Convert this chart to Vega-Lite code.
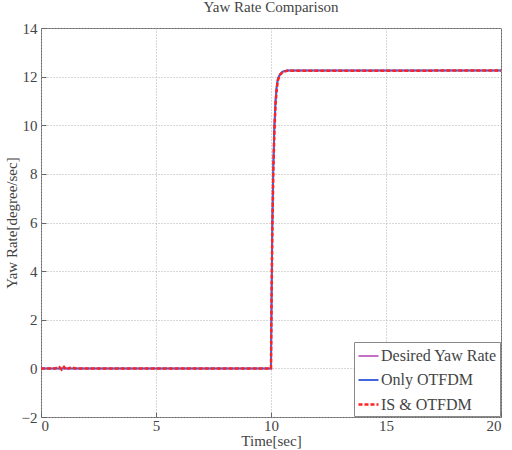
{
  "$schema": "https://vega.github.io/schema/vega-lite/v6.json",
  "autosize": {"type": "none"},
  "width": 460,
  "height": 389,
  "padding": {"left": 41, "top": 28, "right": 11, "bottom": 33},
  "background": "white",
  "title": {"text": "Yaw Rate Comparison", "font": "Liberation Serif", "fontSize": 15, "fontWeight": "normal", "color": "#444444", "offset": 6},
  "config": {
    "view": {"stroke": "#666666", "strokeWidth": 1},
    "axis": {"labelFont": "Liberation Serif", "labelFontSize": 15, "labelColor": "#444444", "titleFont": "Liberation Serif", "titleFontSize": 15, "titleFontWeight": "normal", "titleColor": "#444444", "gridColor": "#b0b0b0", "gridDash": [1, 2], "gridWidth": 1, "domain": false, "tickColor": "#666666", "tickSize": -5}
  },
  "data": {"values": [
    {"t": 0, "v": 0, "s": "Desired Yaw Rate"},
    {"t": 10, "v": 0, "s": "Desired Yaw Rate"},
    {"t": 10.03, "v": 3.6, "s": "Desired Yaw Rate"},
    {"t": 10.06, "v": 6.1, "s": "Desired Yaw Rate"},
    {"t": 10.1, "v": 8.4, "s": "Desired Yaw Rate"},
    {"t": 10.15, "v": 10.1, "s": "Desired Yaw Rate"},
    {"t": 10.2, "v": 11.1, "s": "Desired Yaw Rate"},
    {"t": 10.25, "v": 11.65, "s": "Desired Yaw Rate"},
    {"t": 10.3, "v": 11.95, "s": "Desired Yaw Rate"},
    {"t": 10.4, "v": 12.12, "s": "Desired Yaw Rate"},
    {"t": 10.5, "v": 12.2, "s": "Desired Yaw Rate"},
    {"t": 10.7, "v": 12.25, "s": "Desired Yaw Rate"},
    {"t": 20, "v": 12.25, "s": "Desired Yaw Rate"},
    {"t": 0, "v": 0, "s": "Only OTFDM"},
    {"t": 10, "v": 0, "s": "Only OTFDM"},
    {"t": 10.03, "v": 3.5, "s": "Only OTFDM"},
    {"t": 10.06, "v": 6.0, "s": "Only OTFDM"},
    {"t": 10.1, "v": 8.3, "s": "Only OTFDM"},
    {"t": 10.15, "v": 10.0, "s": "Only OTFDM"},
    {"t": 10.2, "v": 11.0, "s": "Only OTFDM"},
    {"t": 10.25, "v": 11.6, "s": "Only OTFDM"},
    {"t": 10.3, "v": 11.9, "s": "Only OTFDM"},
    {"t": 10.4, "v": 12.1, "s": "Only OTFDM"},
    {"t": 10.5, "v": 12.2, "s": "Only OTFDM"},
    {"t": 10.7, "v": 12.25, "s": "Only OTFDM"},
    {"t": 20, "v": 12.25, "s": "Only OTFDM"},
    {"t": 0, "v": 0, "s": "IS & OTFDM"},
    {"t": 0.6, "v": 0, "s": "IS & OTFDM"},
    {"t": 0.8, "v": 0.05, "s": "IS & OTFDM"},
    {"t": 0.9, "v": -0.05, "s": "IS & OTFDM"},
    {"t": 1.0, "v": 0.06, "s": "IS & OTFDM"},
    {"t": 1.1, "v": -0.05, "s": "IS & OTFDM"},
    {"t": 1.3, "v": 0.04, "s": "IS & OTFDM"},
    {"t": 1.5, "v": 0, "s": "IS & OTFDM"},
    {"t": 10, "v": 0, "s": "IS & OTFDM"},
    {"t": 10.03, "v": 3.3, "s": "IS & OTFDM"},
    {"t": 10.06, "v": 5.8, "s": "IS & OTFDM"},
    {"t": 10.1, "v": 8.1, "s": "IS & OTFDM"},
    {"t": 10.15, "v": 9.8, "s": "IS & OTFDM"},
    {"t": 10.2, "v": 10.9, "s": "IS & OTFDM"},
    {"t": 10.25, "v": 11.5, "s": "IS & OTFDM"},
    {"t": 10.3, "v": 11.85, "s": "IS & OTFDM"},
    {"t": 10.4, "v": 12.08, "s": "IS & OTFDM"},
    {"t": 10.5, "v": 12.18, "s": "IS & OTFDM"},
    {"t": 10.7, "v": 12.24, "s": "IS & OTFDM"},
    {"t": 20, "v": 12.25, "s": "IS & OTFDM"}
  ]},
  "mark": {"type": "line", "clip": true},
  "encoding": {
    "x": {"field": "t", "type": "quantitative", "scale": {"domain": [0, 20], "nice": false, "zero": false}, "axis": {"values": [0, 5, 10, 15, 20], "title": "Time[sec]", "titlePadding": 0, "labelPadding": 6}},
    "y": {"field": "v", "type": "quantitative", "scale": {"domain": [-2, 14], "nice": false, "zero": false}, "axis": {"values": [-2, 0, 2, 4, 6, 8, 10, 12, 14], "title": "Yaw Rate[degree/sec]", "titlePadding": 2, "labelPadding": 9}},
    "color": {"field": "s", "type": "nominal", "scale": {"domain": ["Desired Yaw Rate", "Only OTFDM", "IS & OTFDM"], "range": ["#b040b0", "#4466dd", "#ff2222"]}, "legend": {"title": null, "orient": "bottom-right", "offset": 1, "symbolType": "stroke", "symbolSize": 400, "symbolStrokeWidth": 2, "labelFont": "Liberation Serif", "labelFontSize": 16, "labelColor": "#444444", "strokeColor": "#888888", "fillColor": "white", "padding": 3, "rowPadding": 5, "labelOffset": 1}},
    "strokeDash": {"field": "s", "type": "nominal", "scale": {"domain": ["Desired Yaw Rate", "Only OTFDM", "IS & OTFDM"], "range": [[1, 0], [1, 0], [4, 2]]}, "legend": {"title": null}},
    "strokeWidth": {"field": "s", "type": "nominal", "scale": {"domain": ["Desired Yaw Rate", "Only OTFDM", "IS & OTFDM"], "range": [1.5, 2.5, 1.5]}, "legend": null},
    "order": {"field": "s", "sort": "descending"}
  }
}
